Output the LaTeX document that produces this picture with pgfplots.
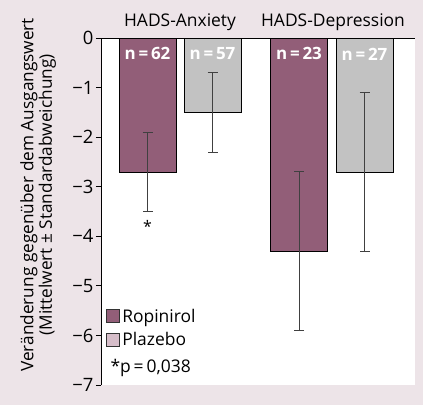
\documentclass[border=0pt]{standalone}
\usepackage{pgfplots}
\pgfplotsset{compat=1.18}
\usepackage{fontspec}
\setmainfont{Open Sans}
\definecolor{bg}{HTML}{EDE4E8}
\definecolor{rop}{HTML}{925E78}
\definecolor{plz}{HTML}{C2C2C2}
\definecolor{plzleg}{HTML}{D6BDC9}
\begin{document}
\begin{tikzpicture}[x=1bp,y=1bp]
\fill[bg] (0,0) rectangle (423,405);
\begin{axis}[
  at={(101bp,20bp)}, anchor=south west,
  scale only axis, width=314bp, height=347bp,
  xmin=101, xmax=415, ymin=-7, ymax=0,
  axis background/.style={fill=white},
  axis x line*=top, axis y line*=left,
  axis line style={-, line width=0.9bp, black},
  xtick={180,333}, xticklabels={HADS-Anxiety,HADS-Depression},
  x tick style={draw=none},
  xticklabel style={font=\fontsize{17.5}{17.5}\selectfont, yshift=-1bp},
  extra x ticks={101,253,413}, extra x tick labels={},
  extra x tick style={tick align=outside, major tick length=5bp, tick style={draw=black, line width=0.8bp}},
  ytick={0,-1,-2,-3,-4,-5,-6,-7},
  yticklabels={0,−1,−2,−3,−4,−5,−6,−7},
  tick align=outside, major tick length=5bp,
  y tick style={line width=0.9bp, black},
  yticklabel style={font=\fontsize{18.5}{18.5}\selectfont, xshift=1bp},
  ylabel={Veränderung gegenüber dem Ausgangswert\\(Mittelwert ± Standardabweichung)},
  ylabel style={align=center, font=\fontsize{17.3}{18.5}\selectfont, at={(axis description cs:-0.2,0.548)}, anchor=center},
  legend style={at={(axis cs:105,-5.4)}, anchor=north west, draw=none, fill=none,
     font=\fontsize{17.5}{17.5}\selectfont, row sep=5bp, inner sep=1bp,
     legend cell align=left, /tikz/every odd column/.append style={column sep=0.5bp}},
  legend image code/.code={\draw[#1] (0bp,-6.5bp) rectangle (13bp,6.5bp);},
  clip=false,
]
\addplot[ybar, bar width=57, bar shift=0pt, fill=rop, draw=black, line width=0.6bp, forget plot,
  error bars/.cd, y dir=both, y explicit,
  error bar style={black!75, line width=0.8bp},
  error mark options={rotate=90, mark size=5bp, black!75, line width=0.8bp}]
  coordinates {(147.5,-2.7) +- (0,0.8) (299,-4.3) +- (0,1.6)};
\addplot[ybar, bar width=57, bar shift=0pt, fill=plz, draw=black, line width=0.6bp, forget plot,
  error bars/.cd, y dir=both, y explicit,
  error bar style={black!75, line width=0.8bp},
  error mark options={rotate=90, mark size=5bp, black!75, line width=0.8bp}]
  coordinates {(212.5,-1.5) +- (0,0.8) (364.5,-2.7) +- (0,1.6)};
\addlegendimage{fill=rop, draw=black!80, line width=0.6bp}
\addlegendentry{Ropinirol}
\addlegendimage{fill=plzleg, draw=black!80, line width=0.6bp}
\addlegendentry{Plazebo}
\node[white, font=\bfseries\fontsize{17}{17}\selectfont] at (axis cs:147.5,-0.32) {n\,=\,62};
\node[white, font=\bfseries\fontsize{17}{17}\selectfont] at (axis cs:212.5,-0.32) {n\,=\,57};
\node[white, font=\bfseries\fontsize{17}{17}\selectfont] at (axis cs:299,-0.32) {n\,=\,23};
\node[white, font=\bfseries\fontsize{17}{17}\selectfont] at (axis cs:364.5,-0.32) {n\,=\,27};
\node[font=\fontsize{16}{16}\selectfont] at (axis cs:147.5,-3.8) {*};
\node[font=\fontsize{17.5}{17.5}\selectfont, anchor=west] at (axis cs:107,-6.66) {*p\,=\,0,038};
\end{axis}
\end{tikzpicture}
\end{document}
